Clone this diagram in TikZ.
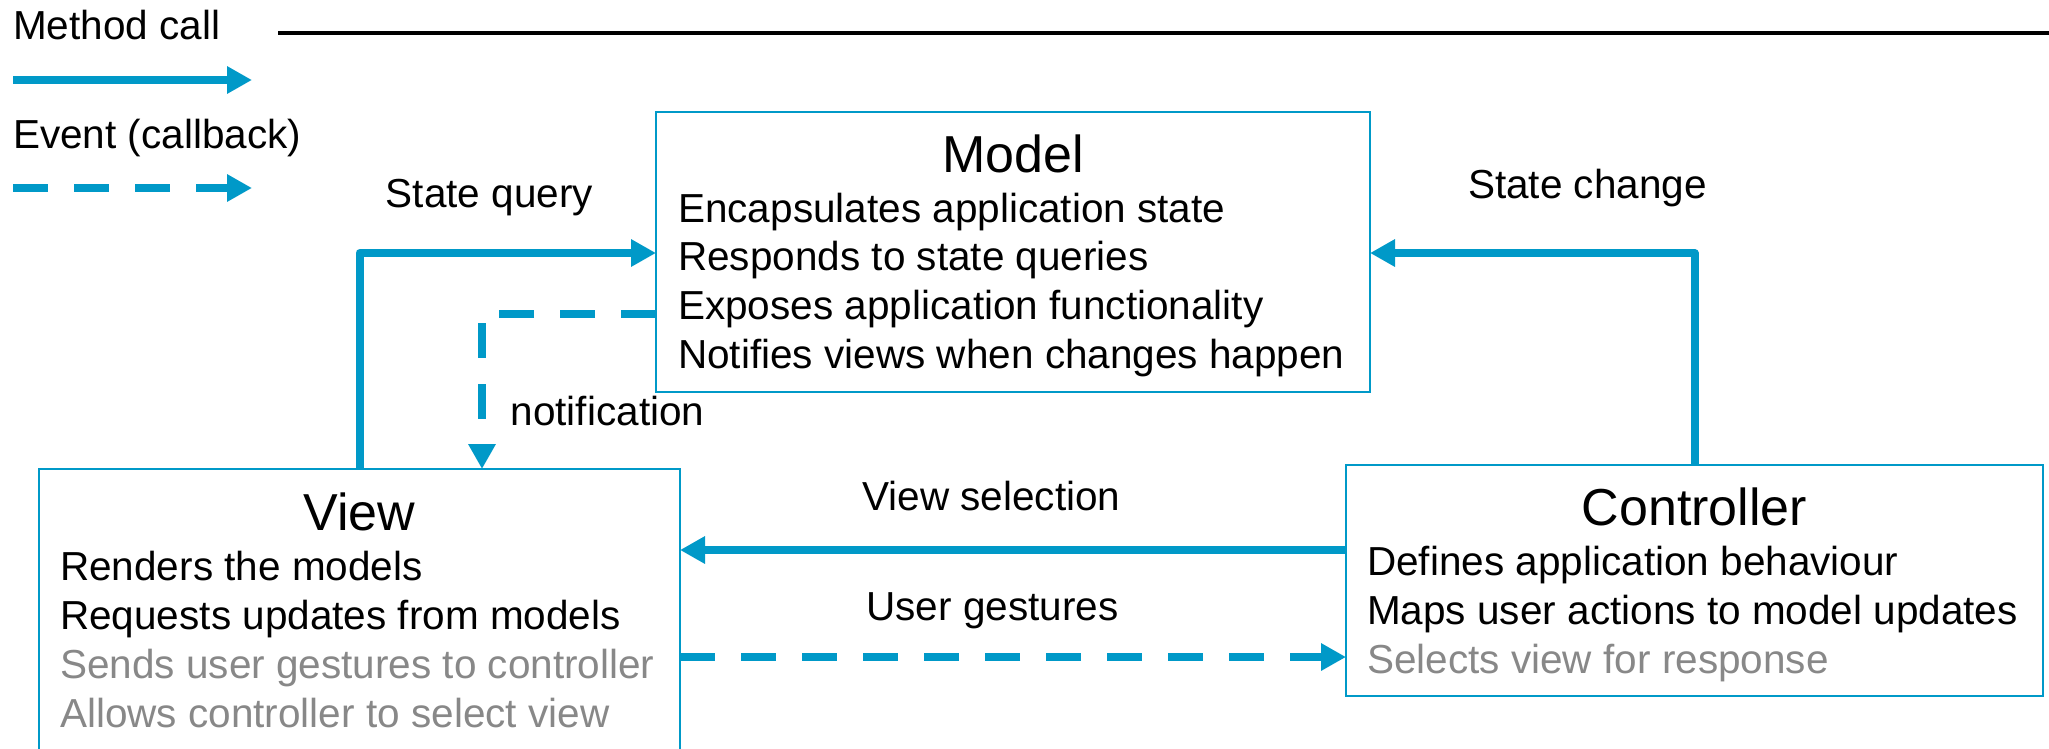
\documentclass[tikz,border=0pt]{standalone}
\usepackage{fontspec}
\setmainfont{Liberation Sans}
\usetikzlibrary{arrows.meta}
\definecolor{mvcblue}{RGB}{0,153,200}
\definecolor{mvcgray}{RGB}{136,136,136}
\begin{document}
\begin{tikzpicture}[x=1pt,y=-1pt,
  lbl/.style={font=\fontsize{40.5pt}{49pt}\selectfont, inner sep=0pt, anchor=base},
  body/.style={font=\fontsize{40.5pt}{49pt}\selectfont, inner sep=0pt, anchor=base west},
  greybody/.style={body, text=mvcgray},
  ttl/.style={font=\fontsize{52pt}{60pt}\selectfont, inner sep=0pt, anchor=base},
  box/.style={draw=mvcblue, line width=2pt, inner sep=0pt, outer sep=0pt},
  mcall/.style={draw=mvcblue, line width=8pt, line join=round, -{Triangle[length=25pt,width=26pt]}},
  evt/.style={mcall, dash pattern=on 35pt off 26pt},
]
\clip (0,0) rectangle (2049,748);
\fill[white] (0,0) rectangle (2049,748);

% legend
\node[lbl, anchor=base west] (lmc) at (13,39) {Method call};
\coordinate (ta) at (278,33);
\coordinate (tb) at (2060,33);
\draw[line width=3.3pt] (ta) -- (tb);
\coordinate (l1a) at (13,80);
\coordinate (l1b) at (252,80);
\draw[mcall] (l1a) -- (l1b);
\node[lbl, anchor=base west] (lev) at (13,148) {Event (callback)};
\coordinate (l2a) at (13,188);
\coordinate (l2b) at (252,188);
\draw[evt] (l2a) -- (l2b);

% boxes
\node[box, minimum width=714pt, minimum height=280pt] (model) at (1013,252) {};
\node[box, minimum width=641pt, minimum height=320pt] (view) at (359.5,629) {};
\node[box, minimum width=697pt, minimum height=231pt] (ctrl) at (1694.5,580.5) {};

% model text
\node[ttl] (mt) at (1013,172) {Model};
\node[body] (m1) at (678,222) {Encapsulates application state};
\node[body] (m2) at (678,270.7) {Responds to state queries};
\node[body] (m3) at (678,319.4) {Exposes application functionality};
\node[body] (m4) at (678,368) {Notifies views when changes happen};

% view text
\node[ttl] (vt) at (359.5,530) {View};
\node[body] (v1) at (60,580) {Renders the models};
\node[body] (v2) at (60,629) {Requests updates from models};
\node[greybody] (v3) at (60,678) {Sends user gestures to controller};
\node[greybody] (v4) at (60,727) {Allows controller to select view};

% controller text
\node[ttl] (ct) at (1694.5,525) {Controller};
\node[body] (c1) at (1367,575) {Defines application behaviour};
\node[body] (c2) at (1367,624) {Maps user actions to model updates};
\node[greybody] (c3) at (1367,673) {Selects view for response};

% connectors
\coordinate (qy) at (0,253);
\coordinate (ny) at (0,314);
\coordinate (nx) at (482,0);
\coordinate (vs) at (0,550);
\coordinate (ug) at (0,657);
\draw[mcall] (view.north) |- (model.west |- qy);
\draw[mcall] (ctrl.north) |- (model.east |- qy);
\draw[evt] (model.west |- ny) -| (nx |- view.north);
\draw[mcall] (ctrl.west |- vs) -- (view.east |- vs);
\draw[evt] (view.east |- ug) -- (ctrl.west |- ug);

% labels
\node[lbl] (lsq) at (489.5,207) {State query};
\node[lbl] (lsc) at (1587.5,198) {State change};
\node[lbl] (lno) at (607.5,425) {notification};
\node[lbl] (lvs) at (991.5,510) {View selection};
\node[lbl] (lug) at (992.5,620) {User gestures};
\end{tikzpicture}
\end{document}
